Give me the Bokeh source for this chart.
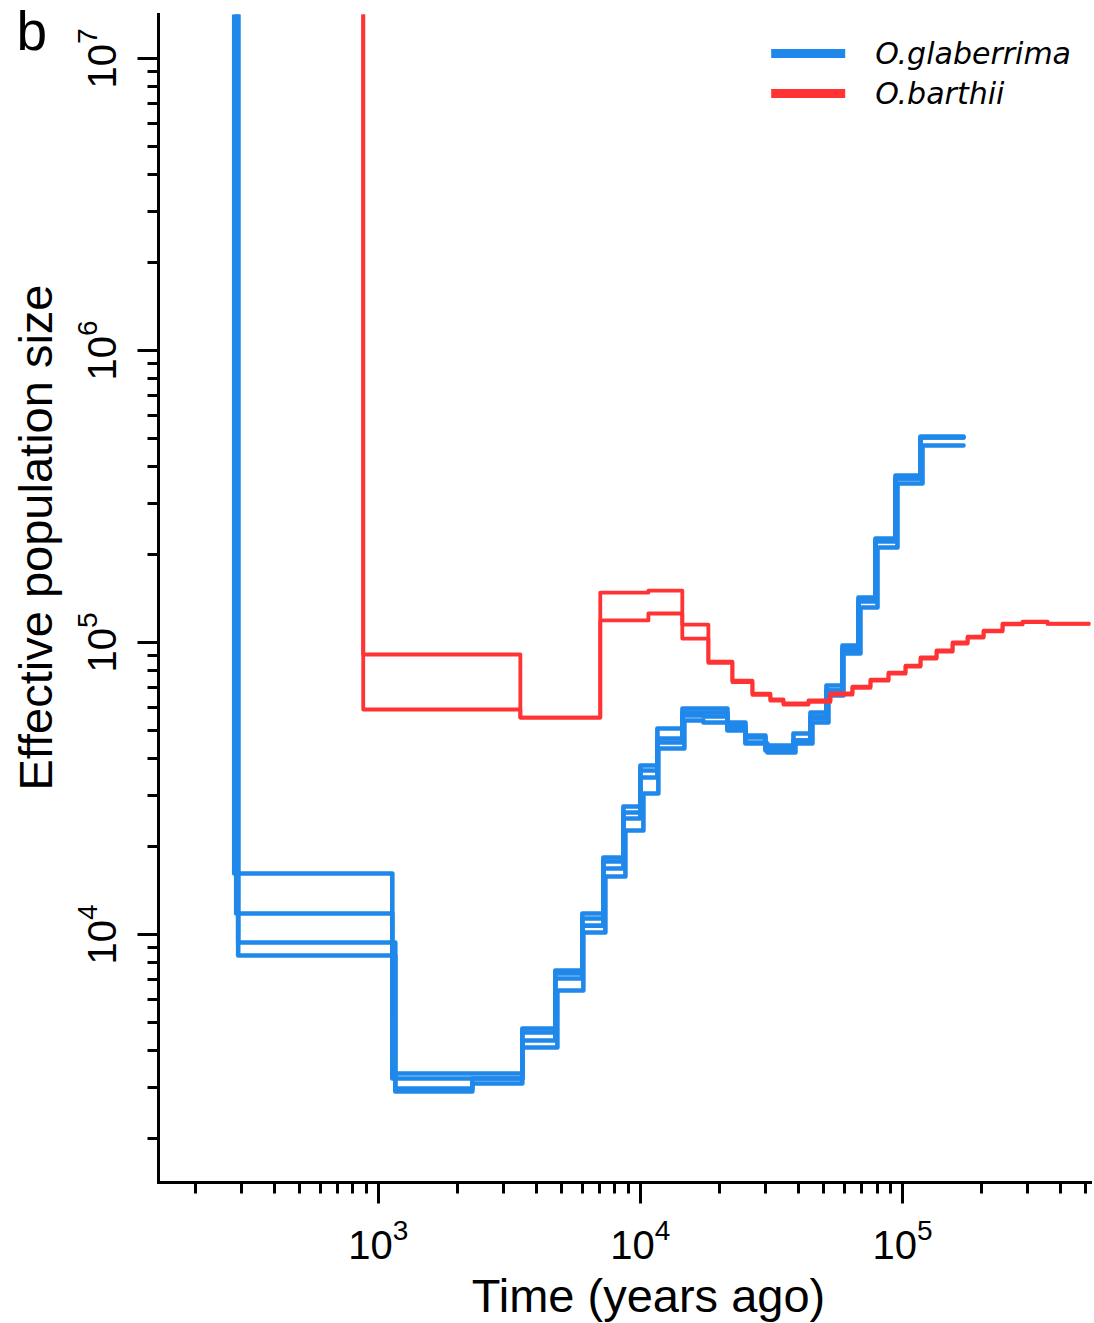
import math
from bokeh.plotting import figure
from bokeh.layouts import row
from bokeh.models import FixedTicker, Label, Legend, LegendItem, Range1d
from bokeh.embed import file_html
from bokeh.resources import INLINE

# ---------------- data (time in years ago, effective population size) ----------------
# O.glaberrima replicates: breakpoints (len n+1) and Ne per interval (len n)
glab1_t = [50, 282, 1131, 3545, 4736, 6005, 7224, 8613, 10000, 11610, 14470, 21480,
           25170, 30000, 38370, 44560, 51280, 59020, 67920, 78890, 94040, 117200, 170900]
glab1_ne = [5e7, 16180, 3342, 4766, 7528, 11800, 18350, 27440, 37910, 50760, 59430,
            51960, 48030, 44390, 48790, 57580, 71240, 97650, 142600, 227100, 373200, 507600]

glab2_t = [50, 287, 1131, 3545, 4736, 6005, 7224, 8613, 10000, 11610, 14470, 21480,
           25170, 30000, 38370, 44560, 51280, 59020, 67920, 78890, 94040, 117200, 170900]
glab2_ne = [5e7, 11800, 3213, 4618, 7352, 11340, 17780, 24960, 34490, 46920, 57580,
            49950, 47280, 42670, 46170, 54910, 68480, 93890, 138200, 221800, 364400, 503600]

glab3_t = [50, 292, 1161, 2285, 3545, 4823, 6059, 7352, 8766, 10270, 11710, 14720,
           17400, 25170, 30530, 39050, 45350, 52190, 59560, 69130, 80280, 95700, 119200, 170900]
glab3_ne = [5e7, 9389, 2969, 3088, 4102, 6431, 10160, 15800, 22710, 30400, 43350, 54060,
            53210, 45100, 42000, 45100, 53210, 65840, 91700, 131800, 211500, 350400, 472900]

glab4_t = [50, 292, 1161, 2285, 3545, 4736, 6005, 7224, 8613, 10000, 11610, 14470, 17400,
           21480, 25170, 30000, 38370, 44560, 51280, 59020, 67920, 78890, 94040, 117200, 170900]
glab4_ne = [5e7, 8474, 2899, 3213, 4335, 7070, 10730, 16830, 26170, 36440, 45450, 56230,
            55800, 50760, 45450, 43350, 46170, 55800, 68480, 95380, 139300, 223600, 364400, 503600]

# O.barthii replicates
barth1_t = [50, 876, 3483, 7030, 10730, 14450, 18170, 22440, 26760, 31330, 35150, 43770,
            53090, 64420, 75500, 88450, 102700, 117200, 134900, 155300, 177200, 203900,
            240900, 287300, 357700, 515000]
barth1_ne = [5e7, 91000, 55340, 148300, 150600, 115200, 86060, 74100, 66880, 63800, 61820,
             63300, 66890, 70650, 74640, 78860, 83320, 88850, 93890, 100000, 104800, 109900,
             116100, 118000, 116100]

barth2_t = [50, 876, 3483, 7030, 10730, 14450, 18170, 22440, 26760, 31330, 35150, 43770,
            53090, 64420, 75500, 88450, 102700, 117200, 134900, 155300, 177200, 203900,
            240900, 287300, 357700, 515000]
barth2_ne = [5e7, 58960, 55340, 119000, 125700, 103200, 85200, 73200, 66200, 63200, 61300,
             62600, 66300, 70000, 74000, 78200, 82700, 88100, 93000, 99200, 104000, 109200,
             115300, 117400, 115800]

series_labels = ["O.glaberrima", "O.barthii"]
x_major = [1e3, 1e4, 1e5]
y_major = [1e4, 1e5, 1e6, 1e7]
x_lim = (145, 521600)
y_lim = (1415, 1.415e7)
x_title = "Time (years ago)"
y_title = "Effective population size"
panel_tag = "b"

BLUE = "#1f88ea"
RED = "#ff3333"
FONT = "Liberation Sans"

W_TOTAL, H_TOTAL = 1094, 1323
W_SIDE = 64          # strip holding the panel tag and the y title
B_LEFT = 94          # room for the y axis ticks and labels


def steps(t, ne):
    xs, ys = [], []
    for i in range(len(ne)):
        xs += [t[i], t[i + 1]]
        ys += [ne[i], ne[i]]
    return xs, ys


# ---------------- side strip (pixel coordinates, y downwards) ----------------
side = figure(width=W_SIDE, height=H_TOTAL, x_range=Range1d(0, W_SIDE),
              y_range=Range1d(H_TOTAL, 0), min_border=0, toolbar_location=None,
              x_axis_location=None, y_axis_location=None, output_backend="svg")
side.outline_line_color = None
side.grid.visible = False
if hasattr(side, "frame_align"):
    side.frame_align = False
side.add_layout(Label(x=16, y=30, text=panel_tag, text_font=FONT, text_font_size="55px",
                      text_baseline="alphabetic", text_align="left", text_color="black"))
side.add_layout(Label(x=35, y=537, text=y_title, angle=math.pi / 2, text_font=FONT,
                      text_font_size="47px", text_align="center",
                      text_baseline="alphabetic", text_color="black"))

# ---------------- main chart ----------------
p = figure(width=W_TOTAL - W_SIDE, height=H_TOTAL, x_axis_type="log", y_axis_type="log",
           x_range=Range1d(*x_lim), y_range=Range1d(*y_lim),
           output_backend="svg", toolbar_location=None,
           min_border_left=B_LEFT, min_border_right=4, min_border_top=14, min_border_bottom=141)
p.outline_line_color = None
p.grid.visible = False
p.background_fill_color = "white"

glab = [steps(glab1_t, glab1_ne), steps(glab2_t, glab2_ne),
        steps(glab3_t, glab3_ne), steps(glab4_t, glab4_ne)]
barth = [steps(barth1_t, barth1_ne), steps(barth2_t, barth2_ne)]

p.multi_line(xs=[g[0] for g in glab], ys=[g[1] for g in glab], line_color=BLUE,
             line_width=4.6, line_join="round", line_cap="round")
p.multi_line(xs=[b[0] for b in barth], ys=[b[1] for b in barth], line_color=RED,
             line_width=3.8, line_join="round", line_cap="round")

# legend swatches (a single NaN point: nothing drawn in the frame)
nan = float("nan")
lg1 = p.line(x=[nan], y=[nan], line_color=BLUE, line_width=9, line_cap="round")
lg2 = p.line(x=[nan], y=[nan], line_color=RED, line_width=9, line_cap="round")
legend = Legend(items=[LegendItem(label=series_labels[0], renderers=[lg1]),
                       LegendItem(label=series_labels[1], renderers=[lg2])],
                location="top_right", margin=19, padding=10, spacing=0,
                glyph_width=74, glyph_height=40, label_height=40, label_standoff=30,
                label_text_font="DejaVu Sans", label_text_font_style="italic",
                label_text_font_size="30px", label_text_color="black",
                background_fill_alpha=0, border_line_color=None)
p.add_layout(legend)

minor_x = [m * 10 ** e for e in range(2, 6) for m in range(2, 10)]
minor_y = [m * 10 ** e for e in range(3, 7) for m in range(2, 10)]
p.xaxis.ticker = FixedTicker(ticks=x_major, minor_ticks=minor_x)
p.yaxis.ticker = FixedTicker(ticks=y_major, minor_ticks=minor_y)

for ax in (p.xaxis[0], p.yaxis[0]):
    ax.axis_line_width = 3
    ax.axis_line_color = "black"
    ax.axis_line_cap = "square"
    ax.major_tick_line_width = 3
    ax.minor_tick_line_width = 3
    ax.major_tick_line_color = "black"
    ax.minor_tick_line_color = "black"
    ax.major_tick_out = 21
    ax.major_tick_in = 0
    ax.minor_tick_out = 11
    ax.minor_tick_in = 0
    ax.major_label_text_font = FONT
    ax.major_label_text_font_size = "40px"
    ax.major_label_text_color = "black"

p.xaxis.major_label_standoff = 14
p.yaxis.major_label_standoff = 22
p.yaxis.major_label_orientation = "vertical"

p.add_layout(Label(x=x_lim[0], y=y_lim[0], x_offset=490, y_offset=-113, text=x_title,
                   text_font=FONT, text_font_size="47px", text_align="center",
                   text_baseline="alphabetic", text_color="black"), "below")

open("out.html", "w").write(file_html(row(side, p), INLINE))
